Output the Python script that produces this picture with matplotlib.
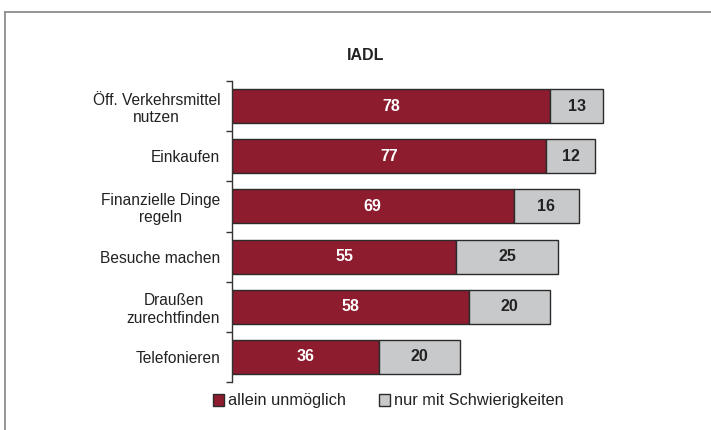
import matplotlib
matplotlib.use("Agg")
import matplotlib.pyplot as plt
from matplotlib.lines import Line2D
from matplotlib.patches import Patch
import numpy as np

plt.rcParams['font.family'] = ['Liberation Sans', 'DejaVu Sans']

categories = ["Öff. Verkehrsmittel\nnutzen", "Einkaufen", "Finanzielle Dinge\nregeln",
              "Besuche machen", "Draußen\nzurechtfinden", "Telefonieren"]
allein_unmoeglich = [78, 77, 69, 55, 58, 36]
mit_schwierigkeiten = [13, 12, 16, 25, 20, 20]
series_names = ["allein unmöglich", "nur mit Schwierigkeiten"]
title = "IADL"

W, H = 711, 430
fig = plt.figure(figsize=(W / 100, H / 100), dpi=100)

# frame lines
fig.add_artist(Line2D([5 / W, 1.0], [1 - 12 / H, 1 - 12 / H], color="#8c8c8c", lw=1.3))
fig.add_artist(Line2D([5 / W, 5 / W], [1 - 12 / H, 0], color="#8c8c8c", lw=1.3))

left, right = 232 / W, 640 / W
top, bottom = 1 - 81 / H, 1 - 382 / H
ax = fig.add_axes([left, bottom, right - left, top - bottom])

red = "#8c1c2e"
gray = "#c8c9cb"
edge = "#2b2b2b"
y = np.arange(len(categories))
h = 0.68
ax.barh(y, allein_unmoeglich, height=h, color=red, edgecolor=edge, linewidth=1.0, label=series_names[0])
ax.barh(y, mit_schwierigkeiten, left=allein_unmoeglich, height=h, color=gray, edgecolor=edge,
        linewidth=1.0, label=series_names[1])

for i, (a, b) in enumerate(zip(allein_unmoeglich, mit_schwierigkeiten)):
    ax.text(a / 2, i, str(a), ha="center", va="center", color="white", fontsize=11.5, fontweight="bold")
    ax.text(a + b / 2, i, str(b), ha="center", va="center", color="#222222", fontsize=11.5, fontweight="bold")

ax.set_xlim(0, 100)
ax.set_ylim(len(categories) - 0.5, -0.5)
for s in ["top", "right", "bottom"]:
    ax.spines[s].set_visible(False)
ax.spines["left"].set_color("#333333")
ax.spines["left"].set_linewidth(1.0)
ax.set_xticks([])
ax.set_yticks(np.arange(len(categories) + 1) - 0.5)
ax.set_yticklabels([])
ax.tick_params(axis="y", which="major", length=4, width=1.0, color="#333333")
ax.set_yticks(y, minor=True)
labels = ax.set_yticklabels(categories, minor=True, fontsize=11.2, color="#222222")
for lab in labels:
    lab.set_multialignment("center")
ax.tick_params(axis="y", which="minor", length=0, pad=8.5)

fig.text(366 / W, 1 - 55 / H, title, ha="center", va="center", fontsize=11.5, fontweight="bold", color="#222222")

handles = [Patch(facecolor=red, edgecolor=edge, linewidth=1.0),
           Patch(facecolor=gray, edgecolor=edge, linewidth=1.0)]
fig.legend(handles, series_names, loc="center", bbox_to_anchor=(388 / W, 1 - 401 / H), ncol=2,
           frameon=False, fontsize=11.8, handlelength=0.72, handleheight=0.72, handletextpad=0.2,
           columnspacing=2.0, labelcolor="#222222", borderpad=0, borderaxespad=0)

fig.savefig("out.png", dpi=100)
